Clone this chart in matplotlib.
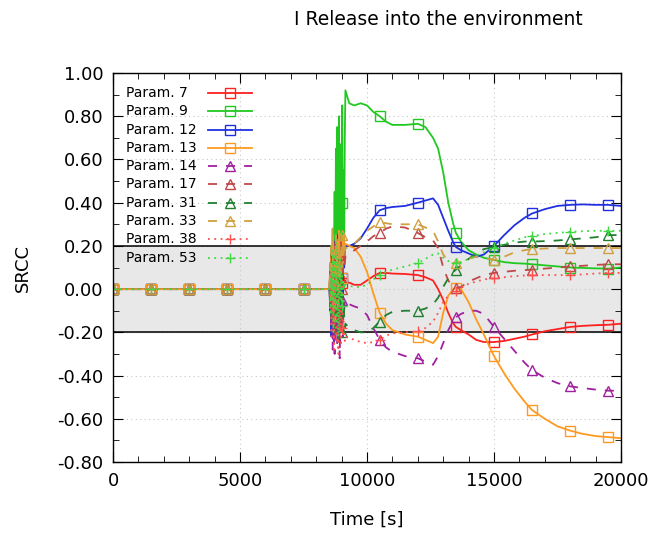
import numpy as np
import matplotlib
matplotlib.use('Agg')
import matplotlib.pyplot as plt
from matplotlib.lines import Line2D
from matplotlib.ticker import MultipleLocator, FormatStrFormatter

# time grid [s]: flat part, noisy burst, smooth part
t_flat = [0, 1500, 3000, 4500, 6000, 7500, 8450]
t_burst = [8525, 8550, 8575, 8600, 8625, 8650, 8675, 8700, 8725, 8750, 8775, 8800, 8825,
           8850, 8875, 8900, 8925, 8950, 8975, 9000, 9025, 9050, 9075, 9100, 9125, 9150]
t_post = [9300, 9500, 9750, 10000, 10250, 10500, 10750, 11000, 11500, 12000, 12300,
          12600, 12800, 13000, 13200, 13400, 13500, 13700, 14000, 14300, 14600, 15000,
          15400, 15800, 16200, 16500, 17000, 17500, 18000, 18500, 19000, 19500, 20000]
time = t_flat + t_burst + t_post

zeros = [0.0, 0.0, 0.0, 0.0, 0.0, 0.0, 0.0]

p7 = zeros + \
    [0.0, 0.12, -0.05, 0.20, -0.18, 0.08, 0.22, -0.25, 0.05, 0.15, -0.10, 0.25, -0.20,
     0.02, 0.18, -0.15, 0.10, 0.05, -0.12, 0.03, 0.14, -0.08, 0.06, 0.02, 0.04, 0.03] + \
    [0.03, 0.02, 0.02, 0.04, 0.06, 0.075, 0.075, 0.072, 0.07, 0.065, 0.055, 0.04, 0.0, -0.05,
     -0.11, -0.16, -0.175, -0.19, -0.21, -0.235, -0.245, -0.245, -0.24, -0.23, -0.22, -0.21,
     -0.195, -0.185, -0.175, -0.17, -0.167, -0.165, -0.16]
p9 = zeros + \
    [0.0, 0.08, -0.12, 0.20, -0.05, 0.28, -0.15, 0.10, 0.45, -0.10, 0.65, 0.05, 0.75,
     -0.18, 0.30, 0.80, 0.10, 0.67, -0.05, 0.40, 0.85, 0.20, 0.55, 0.15, 0.70, 0.92] + \
    [0.86, 0.85, 0.86, 0.85, 0.82, 0.80, 0.775, 0.76, 0.76, 0.765, 0.75, 0.70, 0.65, 0.54,
     0.40, 0.30, 0.26, 0.22, 0.18, 0.16, 0.145, 0.135, 0.125, 0.12, 0.118, 0.115, 0.11,
     0.105, 0.10, 0.098, 0.096, 0.095, 0.10]
p12 = zeros + \
    [0.0, -0.10, 0.12, -0.22, 0.18, -0.05, 0.08, -0.25, 0.22, 0.02, -0.15, 0.15, -0.08,
     0.25, -0.20, 0.10, 0.20, -0.12, 0.05, 0.05, 0.18, -0.02, 0.22, 0.10, 0.18, 0.20] + \
    [0.20, 0.21, 0.235, 0.28, 0.33, 0.365, 0.375, 0.38, 0.385, 0.40, 0.41, 0.42, 0.39, 0.33,
     0.27, 0.215, 0.195, 0.18, 0.165, 0.15, 0.16, 0.20, 0.25, 0.295, 0.33, 0.35, 0.37,
     0.385, 0.39, 0.392, 0.39, 0.39, 0.385]
p13 = zeros + \
    [0.0, 0.06, -0.08, 0.15, 0.02, 0.25, -0.12, 0.10, -0.05, 0.20, 0.08, -0.15, 0.22,
     0.0, 0.12, 0.27, -0.05, 0.18, 0.10, 0.05, 0.22, 0.12, 0.25, 0.15, 0.20, 0.21] + \
    [0.20, 0.19, 0.15, 0.08, -0.02, -0.11, -0.16, -0.19, -0.21, -0.22, -0.235, -0.25, -0.22,
     -0.11, -0.03, 0.0, 0.005, 0.0, -0.06, -0.14, -0.21, -0.31, -0.39, -0.46, -0.52, -0.56,
     -0.60, -0.635, -0.655, -0.67, -0.68, -0.685, -0.69]
p14 = zeros + \
    [0.0, -0.05, 0.10, -0.18, 0.05, -0.28, 0.12, -0.10, -0.30, 0.02, -0.20, 0.08, -0.25,
     -0.05, -0.15, 0.05, -0.32, -0.08, -0.18, -0.05, -0.12, -0.22, -0.08, -0.10, -0.05, -0.06] + \
    [-0.07, -0.08, -0.09, -0.12, -0.18, -0.235, -0.27, -0.29, -0.31, -0.32, -0.335, -0.35,
     -0.31, -0.25, -0.19, -0.145, -0.13, -0.115, -0.10, -0.10, -0.115, -0.175, -0.23, -0.285,
     -0.34, -0.375, -0.41, -0.435, -0.45, -0.458, -0.465, -0.47, -0.47]
p17 = zeros + \
    [0.0, 0.10, -0.08, 0.18, -0.12, 0.15, 0.02, -0.20, 0.12, 0.22, -0.05, 0.10, -0.15,
     0.20, 0.05, -0.10, 0.18, 0.08, 0.25, 0.0, 0.15, 0.05, 0.20, 0.10, 0.12, 0.15] + \
    [0.16, 0.18, 0.20, 0.22, 0.245, 0.26, 0.28, 0.29, 0.285, 0.26, 0.24, 0.225, 0.19, 0.10,
     0.04, 0.01, 0.005, 0.01, 0.035, 0.05, 0.065, 0.075, 0.08, 0.085, 0.088, 0.09, 0.095,
     0.10, 0.105, 0.108, 0.112, 0.115, 0.115]
p31 = zeros + \
    [0.0, -0.08, 0.12, -0.15, 0.20, -0.05, 0.10, -0.18, 0.05, -0.22, 0.15, -0.10, 0.02,
     -0.25, 0.08, -0.12, 0.18, -0.20, 0.0, -0.20, 0.08, -0.15, -0.05, -0.12, -0.18, -0.16] + \
    [-0.18, -0.19, -0.20, -0.20, -0.18, -0.15, -0.12, -0.105, -0.10, -0.10, -0.09, -0.07,
     -0.04, 0.01, 0.05, 0.08, 0.09, 0.11, 0.14, 0.165, 0.185, 0.195, 0.205, 0.215, 0.22,
     0.22, 0.222, 0.225, 0.23, 0.235, 0.24, 0.25, 0.25]
p33 = zeros + \
    [0.0, 0.12, -0.05, 0.22, 0.05, 0.28, -0.10, 0.18, 0.08, -0.15, 0.25, 0.02, 0.20,
     0.12, -0.08, 0.26, 0.15, 0.05, 0.22, 0.25, 0.10, 0.20, 0.15, 0.22, 0.18, 0.19] + \
    [0.19, 0.21, 0.24, 0.27, 0.29, 0.31, 0.305, 0.30, 0.30, 0.30, 0.285, 0.27, 0.22, 0.16,
     0.13, 0.12, 0.12, 0.125, 0.14, 0.15, 0.145, 0.135, 0.15, 0.17, 0.18, 0.185, 0.188,
     0.19, 0.19, 0.19, 0.19, 0.19, 0.19]
p38 = zeros + \
    [0.0, -0.10, 0.08, -0.22, 0.02, -0.15, 0.12, -0.28, -0.05, 0.05, -0.18, -0.25, 0.10,
     -0.12, -0.30, 0.0, -0.20, -0.08, -0.25, -0.18, 0.05, -0.22, -0.15, -0.20, -0.24, -0.22] + \
    [-0.225, -0.235, -0.245, -0.25, -0.245, -0.235, -0.215, -0.205, -0.20, -0.195, -0.18,
     -0.15, -0.11, -0.06, -0.03, -0.015, -0.01, 0.005, 0.025, 0.035, 0.045, 0.05, 0.055,
     0.06, 0.063, 0.065, 0.065, 0.065, 0.065, 0.068, 0.072, 0.075, 0.075]
p53 = zeros + \
    [0.0, 0.05, -0.12, 0.10, -0.05, 0.18, -0.20, 0.02, 0.15, -0.08, 0.22, -0.15, 0.06,
     0.12, -0.22, 0.0, 0.15, -0.05, 0.08, -0.08, 0.06, -0.10, 0.04, 0.0, 0.03, 0.02] + \
    [0.015, 0.01, 0.01, 0.02, 0.045, 0.065, 0.08, 0.09, 0.105, 0.12, 0.14, 0.16, 0.165,
     0.145, 0.13, 0.12, 0.12, 0.125, 0.14, 0.155, 0.17, 0.19, 0.21, 0.225, 0.24, 0.245,
     0.255, 0.26, 0.265, 0.268, 0.27, 0.27, 0.27]

labels = ['Param. 7', 'Param. 9', 'Param. 12', 'Param. 13', 'Param. 14',
          'Param. 17', 'Param. 31', 'Param. 33', 'Param. 38', 'Param. 53']
series = [p7, p9, p12, p13, p14, p17, p31, p33, p38, p53]

colors = ['#ff2020', '#20c820', '#2030e0', '#ff9a20', '#a020a0',
          '#c04848', '#208030', '#d0a040', '#ff5050', '#40d840']
dash = (0, (5, 5))
dot = (0, (1, 2.5))
styles = ['-', '-', '-', '-', dash, dash, dash, dash, dot, dot]
markers = ['s', 's', 's', 's', '^', '^', '^', '^', '+', '+']

fig = plt.figure(figsize=(6.51, 5.37), dpi=100)
ax = fig.add_axes([0.1736, 0.1397, 0.7803, 0.7243])
ax.set_axisbelow(True)

ax.grid(True, which='major', color='#c8c8c8', ls=(0, (1, 3)), lw=0.8)
ax.axhspan(-0.2, 0.2, color='#e8e8e8', zorder=0)
ax.axhline(0.2, color='black', lw=1.1, zorder=2)
ax.axhline(-0.2, color='black', lw=1.1, zorder=2)

mark_idx = [i for i, t in enumerate(time) if t % 1500 == 0]
for i, (y, lab, c, ls, m) in enumerate(zip(series, labels, colors, styles, markers)):
    ms = 7 if m == '+' else 6.5
    ax.plot(time, y, color=c, ls=ls, lw=1.3, marker=m, markevery=mark_idx,
            ms=ms, mfc='none', mec=c, mew=1.0, zorder=3)
    # gnuplot style key: text left, sample on the right
    yk = 0.9486 - i * 0.0470
    ax.text(0.0256, yk, lab, transform=ax.transAxes, fontsize=10, va='center', ha='left')
    ax.add_line(Line2D([0.187, 0.2305, 0.274], [yk, yk, yk], transform=ax.transAxes,
                       color=c, ls=ls, lw=1.3, marker=m, markevery=[1], ms=ms,
                       mfc='none', mec=c, mew=1.0, zorder=4))

ax.set_xlim(0, 20000)
ax.set_ylim(-0.8, 1.0)
ax.xaxis.set_major_locator(MultipleLocator(5000))
ax.xaxis.set_minor_locator(MultipleLocator(1000))
ax.yaxis.set_major_locator(MultipleLocator(0.2))
ax.yaxis.set_minor_locator(MultipleLocator(0.1))
ax.yaxis.set_major_formatter(FormatStrFormatter('%.2f'))
ax.tick_params(which='both', direction='in', top=True, right=True, labelsize=13, pad=7)
ax.tick_params(which='major', length=7)
ax.tick_params(which='minor', length=4)
for s in ax.spines.values():
    s.set_linewidth(1.0)
    s.set_zorder(5)

ax.set_xlabel('Time [s]', fontsize=13)
ax.set_ylabel('SRCC', fontsize=13)
ax.yaxis.set_label_coords(-0.16, 0.5)
ax.xaxis.set_label_coords(0.5, -0.125)

fig.text(0.673, 0.963, 'I Release into the environment', ha='center', va='center', fontsize=13.5)

fig.savefig('out.png', dpi=100)
